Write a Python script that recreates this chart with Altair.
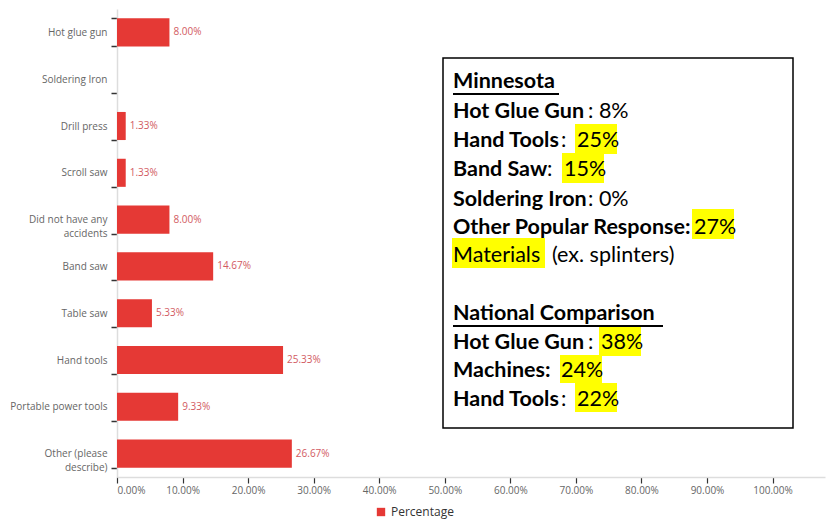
import altair as alt
import pandas as pd

# ---- chart data ----
categories = [
    "Hot glue gun", "Soldering Iron", "Drill press", "Scroll saw",
    "Did not have any accidents", "Band saw", "Table saw", "Hand tools",
    "Portable power tools", "Other (please describe)",
]
percentages = [8.00, 0.00, 1.33, 1.33, 8.00, 14.67, 5.33, 25.33, 9.33, 26.67]
series_name = "Percentage"
x_ticks = [0, 10, 20, 30, 40, 50, 60, 70, 80, 90, 100]

# ---- annotation box content ----
bold_texts = ["Minnesota", "Hot Glue Gun", "Hand Tools", "Band Saw", "Soldering Iron",
              "Other Popular Response:", "National Comparison", "Hot Glue Gun",
              "Machines:", "Hand Tools"]
regular_texts = [": 8%", ":", "25%", ":", "15%", ": 0%", "27%", "Materials",
                 "(ex. splinters)", ":", "38%", "24%", ":", "22%"]

# layout (pixels, relative to plot origin)
OX, OY = 117, 9
bold_x = [453] * 10
bold_y = [88, 118, 147, 176, 206, 234, 320, 349, 377, 406]
reg_x = [588, 561, 577, 547, 564, 588, 694, 453, 552, 588, 601, 561, 561, 577]
reg_y = [118, 147, 147, 176, 176, 206, 234, 262, 262, 349, 349, 377, 406, 406]
hl = [  # x, x2, y, y2
    (575, 617, 124, 154), (562, 604, 153, 183), (692, 734, 209, 239),
    (452, 545, 238, 268), (599, 641, 327, 356), (560, 602, 355, 383),
    (575, 617, 383, 412),
]
ul = [(453, 559, 94), (453, 663, 326)]
box = (443, 793, 58, 428)

df = pd.DataFrame({"category": categories, "pct": percentages, "series": series_name})

XMAX = 108
W = 708
H = 468
FONT = "Open Sans"
BOX_FONT = "Lato"
BOX_SIZE = 21.5

xscale = alt.Scale(domain=[0, XMAX], nice=False, zero=True)
yscale = alt.Scale(domain=categories, paddingInner=0.4, paddingOuter=0.2)

bars = alt.Chart(df).mark_bar().encode(
    x=alt.X("pct:Q", scale=xscale,
            axis=alt.Axis(values=x_ticks, title=None, grid=False,
                          labelExpr="format(datum.value, '.2f') + '%'",
                          labelFont=FONT, labelFontSize=10, labelColor="#666",
                          domainColor="#dddddd", domainWidth=1.5,
                          tickColor="#333", tickSize=6, tickWidth=1.2,
                          labelPadding=2)),
    y=alt.Y("category:N", scale=yscale, sort=categories,
            axis=alt.Axis(title=None, tickBand="extent",
                          labelExpr=("datum.value == 'Did not have any accidents' ? ['Did not have any', 'accidents'] : "
                                     "datum.value == 'Other (please describe)' ? ['Other (please', 'describe)'] : datum.value"),
                          labelFont=FONT, labelFontSize=10, labelColor="#666",
                          labelLineHeight=14,
                          domainColor="#dddddd", domainWidth=1.5,
                          tickColor="#333", tickSize=6, tickWidth=1.5,
                          labelPadding=4)),
    color=alt.Color("series:N", scale=alt.Scale(domain=[series_name], range=["#e53935"]),
                    legend=alt.Legend(title=None, orient="none", legendX=258, legendY=497,
                                      symbolType="square", symbolSize=70,
                                      labelFont=FONT, labelFontSize=12, labelColor="#333")),
)

labels = alt.Chart(df).transform_filter("datum.pct > 0").transform_calculate(
    label="format(datum.pct, '.2f') + '%'"
).mark_text(align="left", baseline="middle", dx=4, font=FONT, fontSize=10, color="#d25a62").encode(
    x=alt.X("pct:Q", scale=xscale),
    y=alt.Y("category:N", scale=yscale, sort=categories),
    text="label:N",
)

main = alt.layer(bars, labels)

# annotation frames
box_df = pd.DataFrame({"x": [box[0] - OX], "x2": [box[1] - OX], "y": [box[2] - OY], "y2": [box[3] - OY]})
box_layer = alt.Chart(box_df).mark_rect(fill="white", stroke="black", strokeWidth=1.5).encode(
    x=alt.X("x:Q", scale=None, axis=None), x2="x2:Q",
    y=alt.Y("y:Q", scale=None, axis=None), y2="y2:Q",
)

hl_df = pd.DataFrame({"x": [h[0] - OX for h in hl], "x2": [h[1] - OX for h in hl],
                      "y": [h[2] - OY for h in hl], "y2": [h[3] - OY for h in hl]})
hl_layer = alt.Chart(hl_df).mark_rect(fill="#ffff00").encode(
    x=alt.X("x:Q", scale=None, axis=None), x2="x2:Q",
    y=alt.Y("y:Q", scale=None, axis=None), y2="y2:Q",
)

ul_df = pd.DataFrame({"x": [u[0] - OX for u in ul], "x2": [u[1] - OX for u in ul],
                      "y": [u[2] - OY for u in ul]})
ul_layer = alt.Chart(ul_df).mark_rule(color="black", strokeWidth=2).encode(
    x=alt.X("x:Q", scale=None, axis=None), x2="x2:Q",
    y=alt.Y("y:Q", scale=None, axis=None),
)

bold_df = pd.DataFrame({"t": bold_texts, "x": [v - OX for v in bold_x], "y": [v - OY for v in bold_y]})
bold_layer = alt.Chart(bold_df).mark_text(align="left", baseline="alphabetic", font=BOX_FONT,
                                          fontSize=BOX_SIZE, fontWeight="bold", color="black").encode(
    x=alt.X("x:Q", scale=None, axis=None),
    y=alt.Y("y:Q", scale=None, axis=None),
    text="t:N",
)

reg_df = pd.DataFrame({"t": regular_texts, "x": [v - OX for v in reg_x], "y": [v - OY for v in reg_y]})
reg_layer = alt.Chart(reg_df).mark_text(align="left", baseline="alphabetic", font=BOX_FONT,
                                        fontSize=BOX_SIZE, color="black").encode(
    x=alt.X("x:Q", scale=None, axis=None),
    y=alt.Y("y:Q", scale=None, axis=None),
    text="t:N",
)

chart = alt.layer(main, box_layer, hl_layer, ul_layer, bold_layer, reg_layer).resolve_scale(
    x="independent", y="independent"
).properties(
    width=W, height=H,
    background="white",
    autosize=alt.AutoSizeParams(type="none"),
    padding={"left": OX, "top": OY, "right": 5, "bottom": 44},
).configure_view(stroke="transparent", strokeWidth=0)

chart.save("out.html", embed_options={"renderer": "svg", "actions": False})
